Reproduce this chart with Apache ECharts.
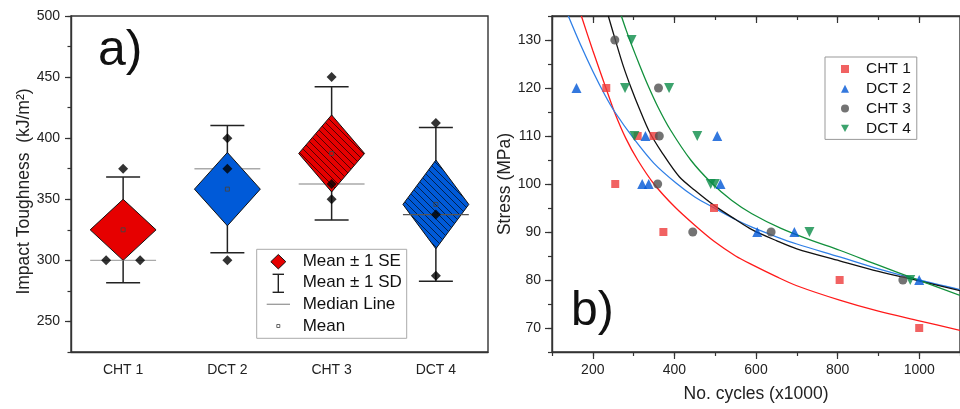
<!DOCTYPE html>
<html><head><meta charset="utf-8">
<script src="https://cdn.jsdelivr.net/npm/echarts@6/dist/echarts.min.js"></script>
<style>html,body{margin:0;padding:0;background:#fff}#c{width:960px;height:409px}</style>
</head><body><div id="c"></div>
<script>
// ---------- Panel a data ----------
const categories = ['CHT 1', 'DCT 2', 'CHT 3', 'DCT 4'];
const rawValues = [[375, 300, 300], [400, 375, 300], [450, 362.5, 350], [412.5, 337.5, 287.5]];
const means = [325, 358.3, 387.5, 345.8];
const seValues = [25, 30, 31.5, 36.3];
const sdValues = [43.3, 52, 54.5, 62.9];
const medians = [300, 375, 362.5, 337.5];
const yTicksA = [250, 300, 350, 400, 450, 500];

// ---------- Panel b data ----------
const cht1 = [[233,120],[255,100],[310,110],[349,110],[373,90],[497,95],[805,80],[1000,70]];
const dct2 = [[160,120],[329,110],[505,110],[321,100],[337,100],[513,100],[603,90],[694,90],[1000,80]];
const cht3 = [[254,130],[361,120],[363,110],[359,100],[445,90],[637,90],[960,80]];
const dct4 = [[295,130],[279,120],[387,120],[302,110],[456,110],[489,100],[499,100],[731,90],[978,80]];
// fitted curves
const fitCHT1 = [[172,135],[200,127.8],[233,119.8],[254,114.8],[281,109.5],[310,105],[350,100],[400,95.3],[450,91.4],[498,88],[550,85],[590,83.2],[650,80.7],[700,78.8],[805,75.8],[900,73.5],[1000,71.5],[1100,69.5]];
const fitDCT2 = [[140,135],[170,129],[200,123.5],[230,118.5],[254,115],[300,109.5],[350,104.3],[404,100.2],[450,97.3],[498,95],[550,92.6],[590,91],[650,89],[700,87.5],[805,84.8],[900,82.3],[1000,80],[1100,78]];
const fitCHT3 = [[238,135],[257,129.5],[275,124.5],[294,120],[315,115.5],[338,111],[370,106.5],[412,101.5],[450,98.7],[498,95.5],[550,92.6],[590,90.5],[650,88.2],[700,86.5],[805,84],[900,81.8],[1000,79.8],[1100,77.8]];
const fitDCT4 = [[270,135],[282,132],[295,129],[315,124.7],[334,120.8],[360,116],[390,111.3],[440,105],[490,100.3],[540,96.6],[590,93.8],[660,90.8],[731,88.4],[805,86.2],[900,83.1],[1000,79.9],[1100,76.8]];
const xLabelsB = [200, 400, 600, 800, 1000];
const yLabelsB = [70, 80, 90, 100, 110, 120, 130];

// ---------- styles ----------
const FONT = 'Arial, "Liberation Sans", sans-serif';
const RED = '#E60000', BLUE = '#005AD8';
const boxColors = [RED, BLUE, RED, BLUE];
const boxHatched = [false, false, true, true];
const medianColors = ['#aaaaaa', '#aaaaaa', '#aaaaaa', '#555555'];
const medianOnTop = [false, false, false, true];

function hatch(color) {
  const s = 7, c = document.createElement('canvas');
  c.width = s; c.height = s;
  const g = c.getContext('2d');
  g.fillStyle = color; g.fillRect(0, 0, s, s);
  g.strokeStyle = 'rgba(0,0,0,0.8)'; g.lineWidth = 0.8;
  g.beginPath();
  g.moveTo(-1, -1); g.lineTo(s + 1, s + 1);
  g.moveTo(-1, s - 1); g.lineTo(1, s + 1);
  g.moveTo(s - 1, -1); g.lineTo(s + 1, 1);
  g.stroke();
  return c;
}

const chart = echarts.init(document.getElementById('c'), null, {renderer: 'canvas'});
const axisLineStyle = {color: '#333', width: 1.4};
const labelStyle = {color: '#222', fontSize: 14, fontFamily: FONT};
const nameStyle = {color: '#222', fontSize: 17.5, fontFamily: FONT};

function renderBox(params, api) {
  const i = api.value(0);
  const m = api.coord([i, means[i]]);
  const cx = m[0], ym = m[1];
  const band = api.size([1, 0])[0];
  const hw = band * 0.316, cw = band * 0.163;
  const yT = api.coord([i, means[i] + seValues[i]])[1];
  const yB = api.coord([i, means[i] - seValues[i]])[1];
  const sT = api.coord([i, means[i] + sdValues[i]])[1];
  const sB = api.coord([i, means[i] - sdValues[i]])[1];
  const yMed = api.coord([i, medians[i]])[1];
  const ws = {stroke: '#222', lineWidth: 1.5};
  const median = {type: 'line', shape: {x1: cx - hw, y1: yMed, x2: cx + hw, y2: yMed}, style: {stroke: medianColors[i], lineWidth: 1.3}};
  const pts = [[cx, yT], [cx + hw, ym], [cx, yB], [cx - hw, ym]];
  const children = [
    {type: 'line', shape: {x1: cx, y1: sT, x2: cx, y2: sB}, style: ws},
    {type: 'line', shape: {x1: cx - cw, y1: sT, x2: cx + cw, y2: sT}, style: ws},
    {type: 'line', shape: {x1: cx - cw, y1: sB, x2: cx + cw, y2: sB}, style: ws}
  ];
  if (!medianOnTop[i]) children.push(median);
  children.push({type: 'polygon', shape: {points: pts}, style: {
    fill: boxHatched[i] ? {image: hatch(boxColors[i]), repeat: 'repeat'} : boxColors[i],
    stroke: '#111', lineWidth: 1}});
  if (medianOnTop[i]) children.push(median);
  children.push({type: 'rect', shape: {x: cx - 2, y: ym - 2, width: 4, height: 4}, style: {fill: 'none', stroke: '#444', lineWidth: 0.9}});
  return {type: 'group', children: children};
}

// raw points with horizontal spread for duplicates
const rawPoints = [];
rawValues.forEach((vals, i) => {
  const seen = {};
  vals.forEach(v => { seen[v] = (seen[v] || 0) + 1; });
  const used = {};
  vals.forEach(v => {
    const k = seen[v]; const j = used[v] || 0; used[v] = j + 1;
    const off = k > 1 ? (j - (k - 1) / 2) * 34 : 0;
    rawPoints.push({value: [i, v], symbolOffset: [off, 0]});
  });
});

function valueAxisPair(base, labelVals, minorLen, majorLen, inside, showLabels, extra) {
  const main = Object.assign({}, base, {
    axisLine: {show: true, onZero: false, lineStyle: axisLineStyle},
    axisTick: {show: true, inside: inside, length: minorLen, lineStyle: {color: '#333', width: 1.2}},
    axisLabel: showLabels ? Object.assign({customValues: labelVals, formatter: v => String(v)}, labelStyle, {margin: 11}) : {show: false},
    splitLine: {show: false}
  }, extra || {});
  const overlay = Object.assign({}, base, {
    axisLine: {show: false, onZero: false},
    axisTick: {show: true, inside: inside, length: majorLen, customValues: labelVals, lineStyle: {color: '#333', width: 1.2}},
    axisLabel: {show: false},
    splitLine: {show: false}
  });
  return [main, overlay];
}

const yA = valueAxisPair({type: 'value', gridIndex: 0, min: 225, max: 500, interval: 25, position: 'left'}, yTicksA, 3.5, 6, false, true,
  {name: 'Impact Toughness  (kJ/m\u00B2)', nameLocation: 'middle', nameGap: 37, nameTextStyle: Object.assign({}, nameStyle, {padding: [0, 15, 0, 0]})});
const yB = valueAxisPair({type: 'value', gridIndex: 1, min: 65, max: 135, interval: 5, position: 'left'}, yLabelsB, 4, 7, false, true,
  {name: 'Stress (MPa)', nameLocation: 'middle', nameGap: 38, nameTextStyle: nameStyle});
const xBbottom = valueAxisPair({type: 'value', gridIndex: 1, min: 100, max: 1100, interval: 100, position: 'bottom'}, xLabelsB, 4, 7, false, true,
  {name: 'No. cycles (x1000)', nameLocation: 'middle', nameGap: 33, nameTextStyle: nameStyle});
const xBtop = valueAxisPair({type: 'value', gridIndex: 1, min: 100, max: 1100, interval: 100, position: 'top'}, xLabelsB, 4, 7, true, false);

function fitSeries(name, data, color) {
  return {type: 'line', name: name, xAxisIndex: 1, yAxisIndex: 2, data: data, smooth: 0.3,
    showSymbol: false, symbol: 'none', lineStyle: {color: color, width: 1.3}, z: 2, silent: true};
}

const option = {
  animation: false,
  backgroundColor: '#fff',
  textStyle: {fontFamily: FONT},
  grid: [
    {left: 71, top: 16, width: 417, height: 336, show: true, borderColor: '#333', borderWidth: 1.4, backgroundColor: 'transparent'},
    {left: 552, top: 16, width: 418, height: 336, show: true, borderColor: '#333', borderWidth: 1.4, backgroundColor: 'transparent'}
  ],
  xAxis: [
    {type: 'category', gridIndex: 0, data: categories, boundaryGap: true,
     axisLine: {lineStyle: axisLineStyle},
     axisTick: {alignWithLabel: true, length: 5, lineStyle: {color: '#333', width: 1.2}},
     axisLabel: Object.assign({}, labelStyle, {margin: 11})},
    xBbottom[0], xBbottom[1], xBtop[0], xBtop[1]
  ],
  yAxis: [yA[0], yA[1], yB[0], yB[1]],
  legend: {
    data: [
      {name: 'CHT 1', icon: 'rect'},
      {name: 'DCT 2', icon: 'triangle'},
      {name: 'CHT 3', icon: 'circle'},
      {name: 'DCT 4', icon: 'path://M0,0 L10,0 L5,9 Z'}
    ],
    orient: 'vertical', left: 825, top: 57,
    itemWidth: 8, itemHeight: 8, itemGap: 3.8,
    padding: [4, 6, 3, 16],
    borderColor: '#999', borderWidth: 1, backgroundColor: '#fff',
    textStyle: {fontSize: 15.5, color: '#111', fontFamily: FONT, padding: [0, 0, 0, 12]}
  },
  series: [
    {type: 'custom', name: 'box', xAxisIndex: 0, yAxisIndex: 0, renderItem: renderBox,
     data: categories.map((c, i) => [i]), z: 2},
    {type: 'scatter', name: 'data', xAxisIndex: 0, yAxisIndex: 0, symbol: 'diamond', symbolSize: 10,
     itemStyle: {color: '#000'}, data: rawPoints, z: 4},
    fitSeries('fit1', fitCHT1, '#FF1A1A'),
    fitSeries('fit2', fitDCT2, '#2F7FE6'),
    fitSeries('fit3', fitCHT3, '#111111'),
    fitSeries('fit4', fitDCT4, '#12903C'),
    {type: 'scatter', name: 'CHT 1', xAxisIndex: 1, yAxisIndex: 2, data: cht1, symbol: 'rect', symbolSize: 8, itemStyle: {color: '#EE3B3B'}, z: 4},
    {type: 'scatter', name: 'DCT 2', xAxisIndex: 1, yAxisIndex: 2, data: dct2, symbol: 'triangle', symbolSize: 10, itemStyle: {color: '#0056D6'}, z: 4},
    {type: 'scatter', name: 'CHT 3', xAxisIndex: 1, yAxisIndex: 2, data: cht3, symbol: 'circle', symbolSize: 9, itemStyle: {color: '#505050'}, z: 4},
    {type: 'scatter', name: 'DCT 4', xAxisIndex: 1, yAxisIndex: 2, data: dct4, symbol: 'path://M0,0 L10,0 L5,9 Z', symbolSize: 10, itemStyle: {color: '#0B8C48'}, z: 4}
  ],
  graphic: [
    {type: 'text', x: 98, y: 51, style: {text: 'a)', font: '50px ' + FONT, fill: '#111', verticalAlign: 'middle'}},
    {type: 'text', x: 571, y: 311.7, style: {text: 'b)', font: '48px ' + FONT, fill: '#111', verticalAlign: 'middle'}, z: 10},
    {type: 'group', x: 0, y: 0, children: [
      {type: 'rect', shape: {x: 256.7, y: 249.3, width: 150, height: 89}, style: {fill: '#fff', stroke: '#aaa', lineWidth: 1}},
      {type: 'polygon', shape: {points: [[278.3, 254.5], [285.8, 261.7], [278.3, 268.9], [270.8, 261.7]]}, style: {fill: RED, stroke: '#111', lineWidth: 1}},
      {type: 'line', shape: {x1: 278.3, y1: 274.3, x2: 278.3, y2: 292.3}, style: {stroke: '#222', lineWidth: 1.4}},
      {type: 'line', shape: {x1: 272.6, y1: 274.3, x2: 284, y2: 274.3}, style: {stroke: '#222', lineWidth: 1.4}},
      {type: 'line', shape: {x1: 272.6, y1: 292.3, x2: 284, y2: 292.3}, style: {stroke: '#222', lineWidth: 1.4}},
      {type: 'line', shape: {x1: 266.7, y1: 304.3, x2: 290, y2: 304.3}, style: {stroke: '#999', lineWidth: 1.3}},
      {type: 'rect', shape: {x: 276.8, y: 324.5, width: 3, height: 3}, style: {fill: 'none', stroke: '#555', lineWidth: 0.9}},
      {type: 'text', x: 302.7, y: 261.7, style: {text: 'Mean \u00B1 1 SE', font: '17px ' + FONT, fill: '#111', verticalAlign: 'middle'}},
      {type: 'text', x: 302.7, y: 282.7, style: {text: 'Mean \u00B1 1 SD', font: '17px ' + FONT, fill: '#111', verticalAlign: 'middle'}},
      {type: 'text', x: 302.7, y: 304.3, style: {text: 'Median Line', font: '17px ' + FONT, fill: '#111', verticalAlign: 'middle'}},
      {type: 'text', x: 302.7, y: 326, style: {text: 'Mean', font: '17px ' + FONT, fill: '#111', verticalAlign: 'middle'}}
    ]}
  ]
};
chart.setOption(option);
</script>
</body></html>
